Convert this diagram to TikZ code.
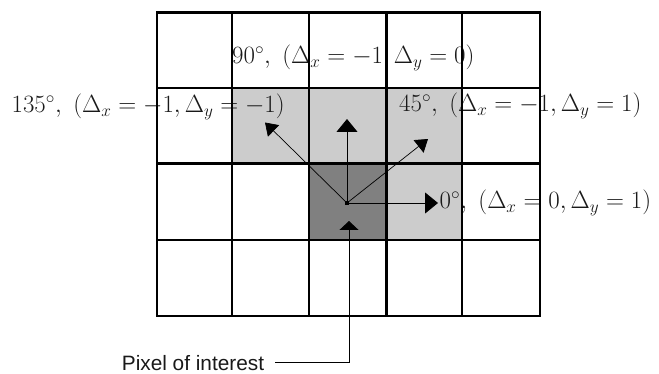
\documentclass[tikz,border=0pt]{standalone}
\usepackage{fontspec}
\newfontfamily\labelsans{Liberation Sans}
\usetikzlibrary{arrows.meta}
\definecolor{lightg}{HTML}{CCCCCC}
\definecolor{darkg}{HTML}{808080}
\begin{document}
\begin{tikzpicture}[x=1pt,y=-1pt,
  lbl/.style={inner sep=0pt, anchor=base west, text=black!90, font=\fontsize{24.2}{28}\selectfont},
  gthin/.style={line width=1.2pt},
  gmid/.style={line width=1.7pt},
  gthick/.style={line width=3pt},
  gouter/.style={line width=2.2pt},
  arr/.style={line width=0.9pt, -{Triangle[width=21pt,length=13pt]}},
  arrd/.style={line width=0.7pt, -{Triangle[width=16pt,length=12pt]}},
]
\useasboundingbox (0,0) rectangle (659,374);
% shaded cells
\fill[lightg] (232,88) rectangle (462,163.5);
\fill[lightg] (386,163.5) rectangle (462,240);
\fill[darkg] (309,163.5) rectangle (386,240);
% labels
\node[lbl] (l90) at (232,63.5) {$90^\circ,\ (\Delta_x=-1,\Delta_y=0)$};
\node[lbl] (l135) at (11.5,113) {$135^\circ,\ (\Delta_x=-1,\Delta_y=-1)$};
\node[lbl] (l45) at (399,112) {$45^\circ,\ (\Delta_x=-1,\Delta_y=1)$};
\node[lbl] (l0) at (439.5,208.5) {$0^\circ,\ (\Delta_x=0,\Delta_y=1)$};
% grid
\draw[gthin] (309,12.5) -- (309,316) (462,12.5) -- (462,316)
  (157,88) -- (540,88) (157,240) -- (540,240);
\draw[gmid] (232,12.5) -- (232,316);
\draw[gthick] (386,12.5) -- (386,316) (157,163.5) -- (540,163.5);
\draw[gouter] (157,12.5) rectangle (540,316);
% arrows
\coordinate (c) at (347,203);
\coordinate (tu) at (347,119);
\coordinate (tul) at (265,122.5);
\coordinate (tur) at (428,139);
\coordinate (tr) at (438,203);
\coordinate (tb) at (349,221);
\fill (c) ++(-1.7,-1.7) rectangle ++(3.4,3.4);
\draw[arr] (c) -- (tu);
\draw[arrd] (c) -- (tul);
\draw[arrd] (c) -- (tur);
\draw[arr] (c) -- (tr);
\node[font=\labelsans\fontsize{20.8}{24}\selectfont, anchor=base west, inner sep=0pt, text=black!90] (pix) at (121.7,370) {Pixel of interest};
\draw[line width=0.9pt, -{Triangle[width=19pt,length=9pt]}] ([xshift=11pt]pix.east) -| (tb);
\end{tikzpicture}
\end{document}
